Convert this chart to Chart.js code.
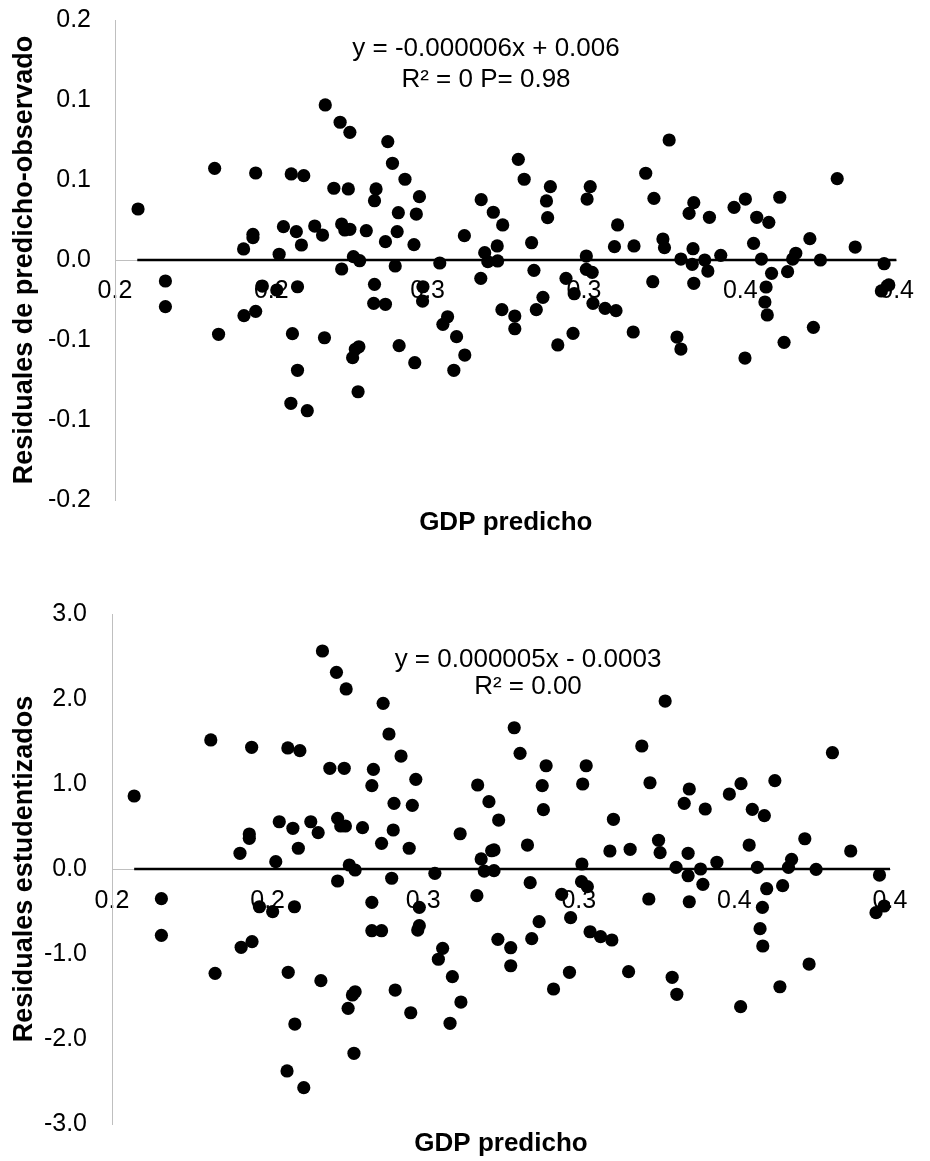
<!DOCTYPE html>
<html>
<head>
<meta charset="utf-8">
<script src="https://cdn.jsdelivr.net/npm/chart.js@4.4.0/dist/chart.umd.min.js"></script>
<style>
  html, body { margin: 0; padding: 0; background: #fff; }
  #wrap { position: relative; width: 930px; height: 1161px; }
  #top { position: absolute; left: 0; top: 0; }
  #bottom { position: absolute; left: 0; top: 560px; }
</style>
</head>
<body>
<div id="wrap">
  <canvas id="top" width="930" height="560"></canvas>
  <canvas id="bottom" width="930" height="601"></canvas>
</div>
<script>
// ---- datos ----
// residuales de predicho-observado (grafico superior)
const gdpTop = [
  0.2538, 0.2576, 0.2601, 0.2255, 0.2360, 0.2451, 0.2483, 0.2059, 0.2560, 0.2597,
  0.2668, 0.2664, 0.2431, 0.2464, 0.2511, 0.2531, 0.2580, 0.2588, 0.2601, 0.2643,
  0.2353, 0.2353, 0.2329, 0.2477, 0.2420, 0.2610, 0.2626, 0.2580, 0.2129, 0.2129,
  0.2377, 0.2414, 0.2467, 0.2330, 0.2360, 0.2265, 0.2454, 0.2536, 0.2624, 0.2615,
  0.2608, 0.2467, 0.2622, 0.2450, 0.2492, 0.2664, 0.2662, 0.2692,
  0.2698, 0.2710, 0.2742, 0.2779, 0.2725, 0.2771, 0.2722, 0.2692, 0.2765, 0.2717,
  0.2831, 0.2788, 0.2787, 0.2851, 0.2839, 0.2874, 0.2895, 0.2727, 0.2767, 0.2867,
  0.2894, 0.2937, 0.2968, 0.2992, 0.2946, 0.2978, 0.2954, 0.2979, 0.2936, 0.3032,
  0.3047, 0.3066, 0.3072, 0.2990, 0.3023, 0.3023, 0.3078, 0.3095, 0.3114, 0.3104,
  0.3107, 0.3133, 0.3172, 0.3154, 0.3175, 0.3206, 0.3206, 0.3221, 0.3223, 0.3254,
  0.3282, 0.3216, 0.3208, 0.3286, 0.3278, 0.3328, 0.3326,
  0.3418, 0.3358, 0.3379, 0.3481, 0.3469, 0.3521, 0.3584, 0.3613, 0.3642, 0.3673,
  0.3701, 0.3848, 0.3402, 0.3406, 0.3448, 0.3479, 0.3477, 0.3509, 0.3517, 0.3550,
  0.3634, 0.3654, 0.3680, 0.3721, 0.3734, 0.3742, 0.3778, 0.3805, 0.3894, 0.3968,
  0.3376, 0.3481, 0.3666, 0.3663, 0.3669, 0.3980, 0.3961, 0.3438, 0.3448, 0.3612,
  0.3712, 0.3787
];
const residTop = [
  0.1292, 0.1148, 0.1064, 0.0764, 0.0725, 0.0717, 0.0703, 0.0425, 0.0598, 0.0592,
  0.0592, 0.0494, 0.0278, 0.0236, 0.0283, 0.0208, 0.0300, 0.0250, 0.0256, 0.0244,
  0.0214, 0.0186, 0.0092, 0.0125, 0.0048, 0.0028, -0.0006, -0.0075, -0.0175, -0.0389,
  -0.0217, -0.0250, -0.0223, -0.0464, -0.0428, -0.0619, -0.0614, -0.0648, -0.0723, -0.0744,
  -0.0814, -0.0919, -0.1098, -0.1194, -0.1256, -0.0203, -0.0361, -0.0369,
  0.0986, 0.0806, 0.0673, 0.0528, 0.0394, 0.0383, 0.0236, 0.0153, 0.0128, -0.0050,
  -0.0025, -0.0223, -0.0342, -0.0473, -0.0536, -0.0639, -0.0792, -0.0714, -0.0856, -0.0919,
  0.0203, 0.0503, 0.0398, 0.0292, 0.0061, 0.0117, -0.0014, -0.0008, -0.0153, 0.0839,
  0.0673, 0.0144, -0.0086, -0.0414, -0.0467, -0.0573, -0.0414, -0.0311, 0.0611, 0.0492,
  0.0353, -0.0708, -0.0611, -0.0153, -0.0281, 0.0033, -0.0078, -0.0103, -0.0361, -0.0403,
  -0.0422, 0.0611, 0.0508, 0.0292, 0.0111, 0.0117, -0.0600,
  0.1000, 0.0723, 0.0514, 0.0478, 0.0389, 0.0356, 0.0439, 0.0508, 0.0356, 0.0314,
  0.0523, 0.0678, 0.0175, 0.0103, 0.0008, 0.0094, -0.0036, 0.0000, -0.0092, 0.0039,
  0.0139, 0.0008, -0.0111, -0.0097, 0.0008, 0.0056, 0.0178, 0.0000, 0.0108, -0.0031,
  -0.0181, -0.0194, -0.0225, -0.0350, -0.0458, -0.0208, -0.0258, -0.0642, -0.0742, -0.0817,
  -0.0686, -0.0561
];

// residuales estudentizados (grafico inferior)
const gdpBot = [
  0.2541, 0.2577, 0.2602, 0.2254, 0.2359, 0.2452, 0.2483, 0.2057, 0.2560, 0.2597,
  0.2672, 0.2668, 0.2430, 0.2465, 0.2511, 0.2530, 0.2580, 0.2588, 0.2600, 0.2644,
  0.2353, 0.2353, 0.2329, 0.2479, 0.2421, 0.2610, 0.2625, 0.2580, 0.2127, 0.2127,
  0.2379, 0.2413, 0.2469, 0.2332, 0.2360, 0.2265, 0.2453, 0.2537, 0.2625, 0.2618,
  0.2607, 0.2470, 0.2622, 0.2668, 0.2668, 0.2693, 0.2450, 0.2493,
  0.2697, 0.2712, 0.2743, 0.2781, 0.2725, 0.2772, 0.2723, 0.2693, 0.2764, 0.2719,
  0.2830, 0.2790, 0.2790, 0.2786, 0.2850, 0.2839, 0.2875, 0.2897, 0.2728, 0.2768,
  0.2869, 0.2895, 0.2940, 0.2969, 0.2994, 0.2949, 0.2976, 0.2982, 0.2957, 0.2982,
  0.2938, 0.3034, 0.3049, 0.3068, 0.3075, 0.2992, 0.3025, 0.3025, 0.3079, 0.3098,
  0.3116, 0.3106, 0.3109, 0.3135, 0.3176, 0.3156, 0.3179, 0.3208, 0.3207, 0.3222,
  0.3229, 0.3256, 0.3285, 0.3219, 0.3210, 0.3289, 0.3280, 0.3332, 0.3328, 0.3362,
  0.3422, 0.3383, 0.3484, 0.3471, 0.3525, 0.3587, 0.3617, 0.3646, 0.3677, 0.3704,
  0.3852, 0.3405, 0.3409, 0.3450, 0.3481, 0.3481, 0.3513, 0.3519, 0.3555, 0.3638,
  0.3659, 0.3683, 0.3724, 0.3739, 0.3747, 0.3781, 0.3810, 0.3899, 0.3973, 0.3380,
  0.3484, 0.3672, 0.3666, 0.3673, 0.3985, 0.3964, 0.3440, 0.3452, 0.3616, 0.3717,
  0.3792
];
const studBot = [
  2.565, 2.314, 2.118, 1.518, 1.432, 1.424, 1.392, 0.859, 1.185, 1.185,
  1.173, 0.980, 0.556, 0.479, 0.556, 0.427, 0.596, 0.506, 0.506, 0.486,
  0.412, 0.361, 0.185, 0.244, 0.086, 0.047, -0.012, -0.141, -0.349, -0.780,
  -0.444, -0.502, -0.444, -0.921, -0.855, -1.227, -1.215, -1.314, -1.444, -1.482,
  -1.639, -1.824, -2.168, -0.392, -0.726, -0.726, -2.376, -2.573,
  1.949, 1.588, 1.329, 1.055, 0.773, 0.749, 0.459, 0.302, 0.244, -0.109,
  -0.051, -0.451, -0.667, -0.718, -0.933, -1.062, -1.267, -1.565, -1.424, -1.691,
  -1.815, 0.415, 0.988, 0.792, 0.576, 0.118, 0.215, 0.224, -0.024, -0.020,
  -0.314, 1.662, 1.361, 0.282, -0.161, -0.827, -0.926, -1.138, -0.820, -0.620,
  1.215, 0.980, 0.698, -1.412, -1.215, -0.298, -0.573, 0.059, -0.149, -0.208,
  -0.738, -0.796, -0.835, 1.215, 1.000, 0.585, 0.212, 0.232, -1.208, 1.447,
  1.976, 1.015, 0.941, 0.773, 0.706, 0.882, 1.004, 0.702, 0.627, 1.039,
  1.368, 0.338, 0.192, 0.020, 0.185, -0.079, 0.000, -0.180, 0.079, 0.282,
  0.020, -0.232, -0.196, 0.020, 0.114, 0.356, -0.004, 0.212, -0.071, -0.353,
  -0.385, -0.451, -0.702, -0.906, -0.435, -0.514, -1.274, -1.474, -1.620, -1.385,
  -1.118
];

// lineas de tendencia (casi planas en cero)
const trendX = [0.2057, 0.4];
const trendTopY = [0, 0];
const trendBotY = [0, 0];

// ejes
const xTicks = [0.2, 0.24, 0.28, 0.32, 0.36, 0.40];
const xTickLabels = ['0.2', '0.2', '0.3', '0.3', '0.4', '0.4'];
const yTicksTop = [-0.2, -0.1333, -0.0667, 0, 0.0667, 0.1333, 0.2];
const yTickLabelsTop = ['-0.2', '-0.1', '-0.1', '0.0', '0.1', '0.1', '0.2'];
const yTicksBot = [-3, -2, -1, 0, 1, 2, 3];
const yTickLabelsBot = ['-3.0', '-2.0', '-1.0', '0.0', '1.0', '2.0', '3.0'];

const FONT = "'Liberation Sans', Arial, sans-serif";
Chart.defaults.font.family = FONT;
Chart.defaults.color = '#000';

// texto de la ecuacion dentro del grafico
const textoEcuacion = {
  id: 'textoEcuacion',
  afterDraw(chart, args, opts) {
    const ctx = chart.ctx;
    ctx.save();
    ctx.font = opts.size + 'px ' + FONT;
    ctx.fillStyle = '#000';
    ctx.textAlign = 'center';
    ctx.textBaseline = 'middle';
    opts.lines.forEach((t, i) => ctx.fillText(t, opts.x, opts.y[i]));
    ctx.restore();
  }
};

function grafico(id, d) {
  return new Chart(document.getElementById(id), {
    type: 'scatter',
    plugins: [textoEcuacion],
    data: {
      datasets: [
        {
          data: d.xs.map((v, i) => ({ x: v, y: d.ys[i] })),
          xAxisID: 'x',
          backgroundColor: '#000',
          borderWidth: 0,
          pointRadius: 6.6,
          pointHoverRadius: 6.6
        },
        {
          type: 'line',
          data: trendX.map((v, i) => ({ x: v, y: d.trendY[i] })),
          xAxisID: 'x',
          borderColor: '#000',
          borderWidth: 2.6,
          pointRadius: 0,
          fill: false
        }
      ]
    },
    options: {
      responsive: false,
      animation: false,
      events: [],
      layout: { padding: d.padding },
      plugins: {
        legend: { display: false },
        tooltip: { enabled: false },
        textoEcuacion: d.eq
      },
      scales: {
        x: {
          type: 'linear',
          position: { y: 0 },
          min: 0.2,
          max: 0.4,
          afterBuildTicks: s => { s.ticks = xTicks.map(v => ({ value: v })); },
          ticks: {
            callback: (v, i) => xTickLabels[i],
            font: { size: 25 },
            color: '#000',
            padding: d.xPad,
            maxRotation: 0,
            autoSkip: false
          },
          grid: { display: false, drawTicks: false },
          border: { display: true, color: '#bfbfbf', width: 1 }
        },
        xt: {
          type: 'linear',
          position: 'bottom',
          afterFit: s => { s.height = d.xTitleBox; },
          ticks: { display: false },
          grid: { display: false, drawTicks: false },
          border: { display: false },
          title: {
            display: true,
            text: 'GDP predicho',
            font: { size: 26, weight: 'bold' },
            color: '#000',
            padding: { top: 0, bottom: d.xTitlePad }
          }
        },
        y: {
          type: 'linear',
          min: d.yTicks[0],
          max: d.yTicks[d.yTicks.length - 1],
          afterBuildTicks: s => { s.ticks = d.yTicks.map(v => ({ value: v })); },
          afterFit: s => {
            s.width = d.yWidth;
            // sin margen extra arriba/abajo por las etiquetas
            s.paddingTop = 0;
            s.paddingBottom = 0;
          },
          ticks: {
            callback: (v, i) => d.yLabels[i],
            font: { size: 25 },
            color: '#000',
            padding: d.yPad,
            autoSkip: false
          },
          grid: { display: false, drawTicks: false },
          border: { display: true, color: '#bfbfbf', width: 1 },
          title: {
            display: true,
            text: d.yTitle,
            font: { size: 27, weight: 'bold' },
            color: '#000',
            padding: { top: 8, bottom: 0 }
          }
        }
      }
    }
  });
}

grafico('top', {
  xs: gdpTop, ys: residTop, trendY: trendTopY,
  yTicks: yTicksTop, yLabels: yTickLabelsTop,
  yTitle: 'Residuales de predicho-observado',
  padding: { left: 0, right: 22, top: 20, bottom: 0 },
  yWidth: 115, yPad: 24, xPad: 16,
  xTitleBox: 60, xTitlePad: 21.5,
  eq: { size: 26, x: 486, y: [49, 80], lines: ['y = -0.000006x + 0.006', 'R\u00B2 = 0 P= 0.98'] }
});

grafico('bottom', {
  xs: gdpBot, ys: studBot, trendY: trendBotY,
  yTicks: yTicksBot, yLabels: yTickLabelsBot,
  yTitle: 'Residuales estudentizados',
  padding: { left: 0, right: 40, top: 54, bottom: 0 },
  yWidth: 112, yPad: 25, xPad: 17,
  xTitleBox: 37, xTitlePad: 2,
  eq: { size: 26, x: 528, y: [100, 127], lines: ['y = 0.000005x - 0.0003', 'R\u00B2 = 0.00'] }
});
</script>
</body>
</html>
